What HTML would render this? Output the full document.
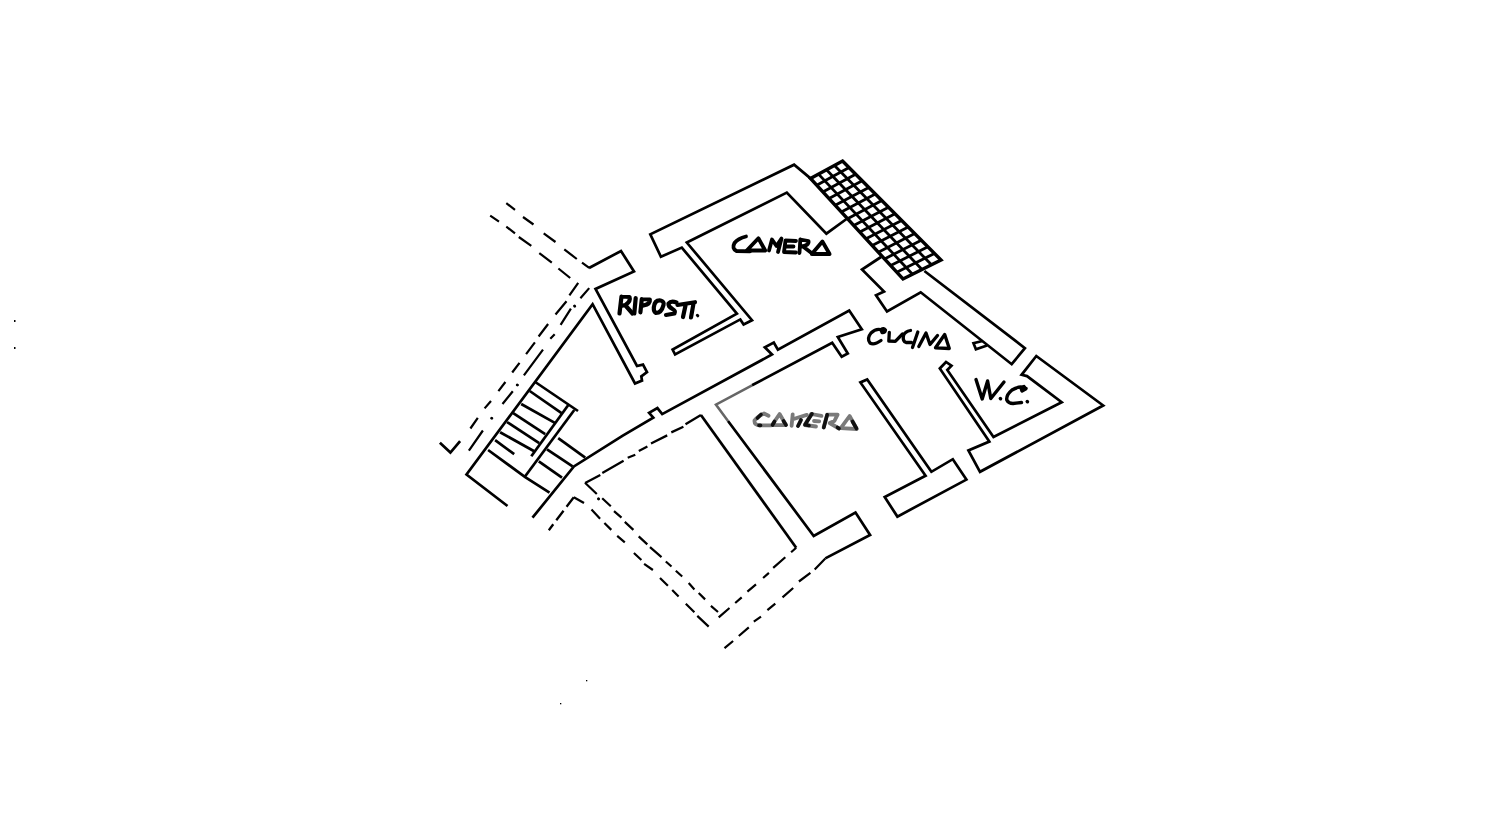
<!DOCTYPE html>
<html><head><meta charset="utf-8"><style>
html,body{margin:0;padding:0;background:#fff;width:1500px;height:838px;overflow:hidden}
svg{display:block}
text{font-family:"Liberation Sans",sans-serif;font-weight:bold}
</style></head><body>
<svg width="1500" height="838" viewBox="0 0 1500 838">
<g fill="none" stroke-linejoin="miter" stroke-linecap="butt">
<path d="M506.3,203.2 L515.0,209.8 M523.0,217.0 L533.5,224.5 M543.7,233.3 L555.5,242.0 M564.3,249.4 L576.8,259.0 M582.0,262.6 L589.2,267.8" stroke="#000" stroke-width="2.2"/>
<path d="M490.2,215.7 L499.0,221.6 M506.3,226.7 L515.0,233.3 M518.8,237.0 L531.3,245.8 M539.3,253.1 L551.8,262.6 M558.4,268.5 L570.2,278.0" stroke="#000" stroke-width="2.2"/>
<path d="M589.0,268.0 L621.0,251.0 L634.0,271.5 L595.5,289.0 L637.0,366.0 L643.0,364.6 L647.0,372.0 L641.3,376.3 L642.0,380.6 L635.0,383.5 L592.6,304.2 L466.5,474.5 L507.5,506.0" stroke="#000" stroke-width="2.7"/>
<path d="M578.2,282.9 L569.4,295.4 M566.5,301.3 L555.5,314.5 M548.1,324.0 L538.6,336.5 M534.9,342.4 L526.1,354.1 M519.5,362.9 L512.2,372.5 M505.4,382.0 L498.4,391.2 M491.0,401.0 L484.6,408.4 M477.8,417.8 L470.4,428.5" stroke="#000" stroke-width="2.2"/>
<path d="M460.1,441.1 L450.4,452.5 L439.9,442.8" stroke="#000" stroke-width="2.7"/>
<path d="M589.2,288.1 L580.4,298.3 M574.9,305.6 L574.3,306.6 M570.9,308.6 L560.6,324.8 M554.7,334.3 L550.3,338.7 M543.0,349.7 L523.9,375.4 M517.6,384.4 L517.0,385.4 M512.8,391.2 L502.5,404.0 M492.0,417.7 L491.4,418.7 M482.9,430.5 L468.9,450.7" stroke="#000" stroke-width="2.2"/>
<path d="M574.6,306.1 L574.7,306.2 M517.3,384.9 L517.4,385 M491.7,418.2 L491.8,418.3 M598.5,498.8 L598.6,498.9" stroke="#000" stroke-width="2.8" stroke-linecap="round"/>
<path d="M535.2,382.0 L578.0,411.0" stroke="#000" stroke-width="2.7"/>
<path d="M529.7,391.0 L562.3,413.6" stroke="#000" stroke-width="2.7"/>
<path d="M521.2,404.0 L555.3,423.1" stroke="#000" stroke-width="2.7"/>
<path d="M513.2,413.1 L545.2,434.2" stroke="#000" stroke-width="2.7"/>
<path d="M507.1,422.1 L539.2,443.2" stroke="#000" stroke-width="2.7"/>
<path d="M500.1,432.2 L534.2,451.2" stroke="#000" stroke-width="2.7"/>
<path d="M495.1,440.2 L514.2,454.2" stroke="#000" stroke-width="2.7"/>
<path d="M488.1,450.0 L525.2,477.1 L549.5,492.7" stroke="#000" stroke-width="2.7"/>
<path d="M568.3,405.0 L531.3,456.3" stroke="#000" stroke-width="2.7"/>
<path d="M574.3,410.0 L525.0,476.5" stroke="#000" stroke-width="2.7"/>
<path d="M558.2,438.2 L585.2,457.6" stroke="#000" stroke-width="2.7"/>
<path d="M547.0,449.4 L572.6,466.4" stroke="#000" stroke-width="2.7"/>
<path d="M538.8,461.3 L562.0,477.6" stroke="#000" stroke-width="2.7"/>
<path d="M532.5,517.7 L573.9,466.4 L622.8,435.7 L653.3,417.7 L649.1,412.9 L657.4,408.1 L662.2,414.1 L772.0,354.5 L764.8,347.3 L773.8,342.5 L777.9,349.7 L849.2,310.5 L861.8,329.3 L837.8,337.0 L847.8,353.5 L841.7,356.8 L832.2,342.8 L752.0,385.3" stroke="#000" stroke-width="2.7"/>
<path d="M752.0,385.3 L715.9,404.6 L728.0,421.0" stroke="#666" stroke-width="2.5"/>
<path d="M728.0,421.0 L813.7,536.0 L855.5,512.6 L870.1,535.0 L825.3,558.4" stroke="#000" stroke-width="2.7"/>
<path d="M585.1,483.1 L600.3,475.0 M602.3,472.9 L623.6,460.8 M627.7,457.7 L635.3,454.7 M638.8,451.1 L647.4,446.6 M651.0,443.5 L667.2,435.4 M671.3,432.4 L683.4,426.8 M685.5,424.3 L700.9,415.0" stroke="#000" stroke-width="2.3"/>
<path d="M700.9,415.0 L796.2,547.7" stroke="#000" stroke-width="2.7"/>
<path d="M585.0,482.7 L596.8,494.0 M598.2,498.5 L598.8,499.1 M602.2,498.3 L610.8,506.3 M614.0,511.1 L621.5,517.6 M624.8,521.9 L633.4,529.9 M638.7,536.4 L647.3,544.4 M650.0,547.2 L661.5,557.2 M665.8,561.5 L671.5,566.5 M675.8,570.8 L682.2,576.5 M688.7,583.0 L694.4,589.4 M698.7,593.0 L705.1,599.4 M710.9,605.9 L718.0,612.0" stroke="#000" stroke-width="2.2"/>
<path d="M718.7,617.3 L729.5,608.0 M735.2,603.0 L741.7,597.3 M747.4,591.6 L756.0,584.4 M763.1,578.0 L768.9,572.9 M773.2,567.9 L785.3,557.2 M791.1,552.2 L796.2,547.7" stroke="#000" stroke-width="2.2"/>
<path d="M573.8,497.2 L584.0,503.0" stroke="#000" stroke-width="2.3"/>
<path d="M591.5,509.5 L600.1,518.7 M604.4,523.0 L611.3,529.9 M617.2,535.8 L624.8,542.3 M633.9,553.0 L641.4,560.0 M644.1,563.8 L652.9,570.0 M660.0,578.0 L667.9,585.8 M672.2,590.1 L678.6,596.6 M685.8,603.7 L694.4,612.3 M697.3,615.9 L708.7,626.6" stroke="#000" stroke-width="2.2"/>
<path d="M724.5,648.1 L733.1,641.0 M738.8,636.0 L748.8,627.4 M753.8,621.6 L761.0,616.6 M767.4,610.2 L775.3,603.7 M782.5,597.3 L793.2,588.0 M798.9,581.5 L810.4,572.9 M814.7,569.4 L825.3,558.4" stroke="#000" stroke-width="2.2"/>
<path d="M573.8,497.2 L548.8,530.2" stroke="#000" stroke-width="2.3" stroke-dasharray="12 5"/>
<path d="M925.6,475.7 L860.4,382.4 L867.2,379.5 L931.4,471.8 L952.8,459.2 L966.4,479.6 L897.4,516.6 L884.7,497.1 Z" stroke="#000" stroke-width="2.7"/>
<path d="M989.3,441.6 L939.8,368.5 L946.0,362.0 L951.5,365.7 L947.3,370.0 L993.5,437.0 L1061.7,402.2 L1027.0,376.1 L1021.6,374.8 L1036.3,356.0 L1103.2,405.5 L980.0,471.8 L968.4,450.4 Z" stroke="#000" stroke-width="2.7"/>
<path d="M881.0,257.0 L862.0,269.5 L884.0,291.6 L876.0,295.2 L887.0,311.4 L920.7,292.3 L1011.7,364.2 L1024.9,348.1 L924.4,271.0" stroke="#000" stroke-width="2.7"/>
<path d="M982.5,341.0 L973.5,343.2 L975.9,349.2 L987.0,345.5" stroke="#000" stroke-width="2.7"/>
<path d="M811.7,179.4 L794.1,164.7 L650.3,234.4 L660.9,256.7 L681.8,247.6 L736.9,313.6 L672.6,349.5 L675.1,354.5 L740.3,319.4 L743.6,324.4 L752.0,320.2 L686.8,242.5 L786.8,192.6 L826.4,233.7 L846.5,219.0" stroke="#000" stroke-width="2.7"/>
<path d="M842.5,161.0 L941.0,260.0 L903.0,279.0 L810.5,178.5 Z" stroke="#000" stroke-width="3.4"/>
<path d="M834.5,165.4 L931.5,264.8" stroke="#000" stroke-width="2.8"/>
<path d="M826.5,169.8 L922.0,269.5" stroke="#000" stroke-width="2.8"/>
<path d="M818.5,174.1 L912.5,274.2" stroke="#000" stroke-width="2.8"/>
<path d="M849.1,167.6 L816.7,185.2" stroke="#000" stroke-width="2.8"/>
<path d="M855.6,174.2 L822.8,191.9" stroke="#000" stroke-width="2.8"/>
<path d="M862.2,180.8 L829.0,198.6" stroke="#000" stroke-width="2.8"/>
<path d="M868.8,187.4 L835.2,205.3" stroke="#000" stroke-width="2.8"/>
<path d="M875.3,194.0 L841.3,212.0" stroke="#000" stroke-width="2.8"/>
<path d="M881.9,200.6 L847.5,218.7" stroke="#000" stroke-width="2.8"/>
<path d="M888.5,207.2 L853.7,225.4" stroke="#000" stroke-width="2.8"/>
<path d="M895.0,213.8 L859.8,232.1" stroke="#000" stroke-width="2.8"/>
<path d="M901.6,220.4 L866.0,238.8" stroke="#000" stroke-width="2.8"/>
<path d="M908.2,227.0 L872.2,245.5" stroke="#000" stroke-width="2.8"/>
<path d="M914.7,233.6 L878.3,252.2" stroke="#000" stroke-width="2.8"/>
<path d="M921.3,240.2 L884.5,258.9" stroke="#000" stroke-width="2.8"/>
<path d="M927.9,246.8 L890.7,265.6" stroke="#000" stroke-width="2.8"/>
<path d="M934.4,253.4 L896.8,272.3" stroke="#000" stroke-width="2.8"/>
</g>
<rect x="14" y="320" width="1.5" height="2" fill="#000"/>
<rect x="14" y="347" width="1.5" height="2" fill="#000"/>
<rect x="586" y="680" width="1.3" height="1.3" fill="#000"/>
<rect x="560" y="703" width="1.3" height="1.3" fill="#000"/>
<g fill="none" stroke="#000" stroke-width="3.8" stroke-linecap="round" stroke-linejoin="round">
<!-- RIPOSTI. -->
<g stroke-width="4.2">
<path d="M621.5,296.5 L619.5,313.5 M621.5,296.5 L629.5,297 Q631,301 625.5,305 L623,305.5 M625.5,305.5 L632.5,313.5"/>
<path d="M635.7,298 L634.3,313.5"/>
<path d="M641.8,299 L640.4,312.3 M641.8,299 L649.8,299.5 Q650.5,304 643.4,305.5"/>
<path d="M653.8,307.5 Q654.5,300 660.5,300.5 Q664.5,301.5 663.5,305 Q661.5,313 656,313 Q653.5,312 653.8,307.5 Z"/>
<path d="M676.5,302.5 Q671,300.5 668.5,303.5 Q668,306.5 672.5,309 Q676,311 674.5,313.5 L666,315"/>
<path d="M677.5,305 L695,302.2 M685.5,305.5 L683,317 M693.5,303.5 L691,317.5"/>
<path d="M697.3,315.3 L697.8,315.8" stroke-width="3"/>
</g>
<!-- CAMERA top -->
<path d="M746,236.5 Q738,238.5 734.5,243 Q731.5,248.5 736.5,251 L750,251.3"/>
<path d="M746.8,250.5 L758.4,238.3 L765.2,250.5 Z"/>
<path d="M769,250.5 L772,239.5 L776.5,246 L781.5,238.5 L778,252"/>
<path d="M796,241 L785.5,240.5 L784,252 L796,252.5 M785,246.3 L793.5,246.5"/>
<path d="M800.3,239.5 L799.5,253 M800.3,239.5 L808.5,241 Q809.5,245.5 801,246.5 M803,246.5 L811.5,253"/>
<path d="M811.8,254 L822.4,241.5 L829.6,254 Z"/>
<!-- CUCINA -->
<g stroke-width="3.3">
<path d="M882.5,330.5 Q877,327.5 871,333 Q866.5,338.5 870,343 Q874,345.5 881,340.5"/>
<path d="M881,329.5 Q884,327.5 885.5,330 Q885,333 882,332.5 Z"/>
<path d="M889.3,332.5 L888.8,341 L895.3,341.3 L902.5,334"/>
<path d="M910.5,330.5 Q905,331.5 903.5,335.5 Q902.5,341.5 906,342.5 L911.5,342.5"/>
<path d="M917.8,332 L912.5,347.5"/>
<path d="M918.8,346.5 L926,333 L930,344.5 L937.5,335.5"/>
<path d="M935.5,347.8 L944.7,334.5 L949.3,348.5 Z"/>
</g>
<!-- W.C. -->
<g stroke-width="3.4">
<path d="M976,379.5 L982.2,399 L987.6,381 L990.8,398.5 L1004,382"/>
<path d="M1000.3,398.5 L1000.6,398.8"/>
<path d="M1026,388.5 Q1020,385 1012,390 Q1006,395 1006.8,400 Q1008.5,403.5 1013,403.5 L1021.5,402.5"/>
<path d="M1021,388 L1024,386.5 L1025.5,389 L1022,391 Z"/>
<path d="M1027.2,401.5 L1027.5,401.8"/>
</g>
</g>
<!-- CAMERA lower (grey) -->
<g fill="none" stroke="#7a7a7a" stroke-width="3.8" stroke-linecap="round" stroke-linejoin="round">
<path d="M768.5,415.8 L764,413.5 Q758,416 754.5,420.5 Q754,425 760,425.4 L771,425.4"/>
<path d="M772,425.2 L779.6,414 L786,425 Z"/>
<path d="M791.6,425.8 L792.7,414.3 M793.6,419 L806.8,414.9 M801,420 L798,426"/>
<path d="M821.5,415.8 L811.2,414 L804.8,425 L816,426.5 M814,421 L819.2,421.4"/>
<path d="M827.2,414.6 L823.6,427.5 M827.5,414.6 L837.6,414.6 L834.4,421 L829.6,423 L839,428.5"/>
<path d="M840.8,428.2 L849.6,416 L856.8,429 Z"/>
</g>
<g fill="none" stroke="#111" stroke-width="3.6" stroke-linecap="round" stroke-linejoin="round">
<path d="M761,414.5 L757.5,418"/>
<path d="M759,425.4 L760.5,425.4"/>
<path d="M774.5,421.5 L772.5,425"/>
<path d="M783.5,421 L786,425"/>
<path d="M801,420 L798,426"/>
<path d="M812,413.8 L805,424.8 L809,425.5"/>
<path d="M827.2,414.8 L823.8,427.5"/>
<path d="M837.5,427.5 L839,428.5"/>
<path d="M852.5,421.5 L856.5,428.5"/>
</g>

</svg>
</body></html>
